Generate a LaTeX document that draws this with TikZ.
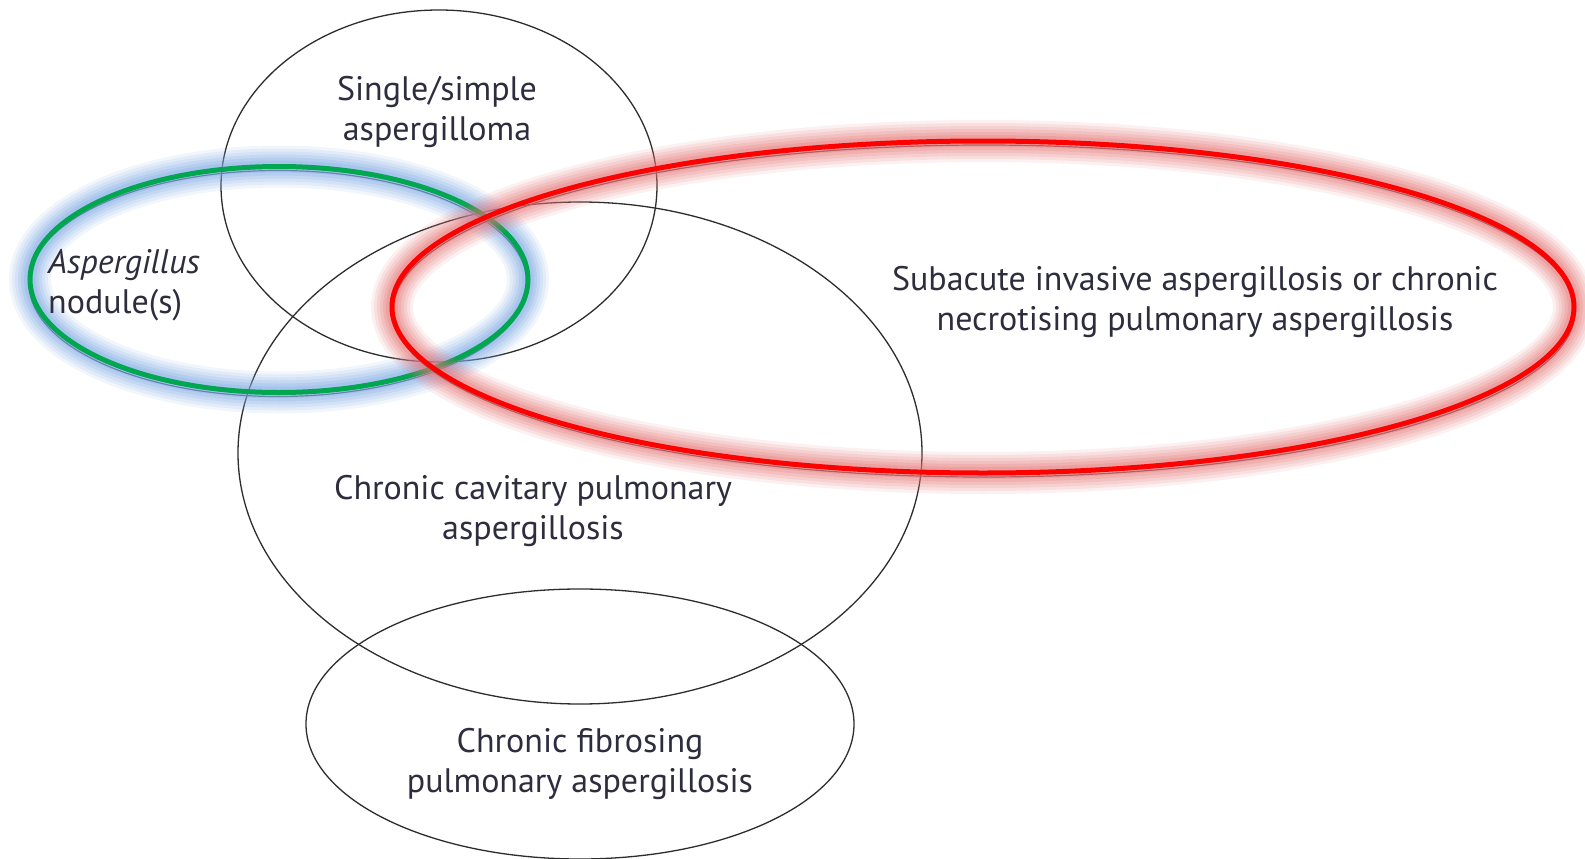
\documentclass[tikz,border=0pt]{standalone}
\usepackage{fontspec}
\setmainfont{PT Sans}
\definecolor{txt}{RGB}{45,45,62}
\definecolor{ringgray}{RGB}{45,45,45}
\definecolor{grn}{RGB}{0,166,80}
\definecolor{rd}{RGB}{255,0,0}
\definecolor{blueglow}{RGB}{125,170,228}
\definecolor{redglow}{RGB}{232,115,115}
\definecolor{shadowgray}{RGB}{60,60,75}
\begin{document}
\begin{tikzpicture}[x=1pt,y=-1pt,
  lbl/.style={font=\fontsize{34}{40.5}\selectfont, text=txt, align=center, inner sep=0pt},
  ring/.style={draw=ringgray, line width=1.3pt},
  shadowring/.style={draw=shadowgray, line width=1.2pt},
  greenring/.style={draw=grn, line width=5pt},
  redring/.style={draw=rd, line width=5pt}]
\useasboundingbox[fill=white] (0,0) rectangle (1585,859);

% black rings
\draw[ring] (439,186) ellipse [x radius=218, y radius=176];
\draw[ring] (580,453) ellipse [x radius=342, y radius=251];
\draw[ring] (580,724) ellipse [x radius=274, y radius=135];

% green ring with blue glow
\draw[shadowring] (278,283.5) ellipse [x radius=249, y radius=113];
\foreach \w/\o in {42/0.1, 36/0.12, 30/0.14, 24/0.17, 18/0.2, 12/0.25}
  \draw[blueglow, line width=\w pt, opacity=\o] (279,279.5) ellipse [x radius=249, y radius=113];
\draw[greenring] (279,279.5) ellipse [x radius=249, y radius=113];

% red ring with red glow
\draw[shadowring] (984,311) ellipse [x radius=591, y radius=166];
\foreach \w/\o in {42/0.1, 36/0.12, 30/0.14, 24/0.17, 18/0.2, 12/0.25}
  \draw[redglow, line width=\w pt, opacity=\o] (983,307) ellipse [x radius=591, y radius=166];
\draw[redring] (983,307) ellipse [x radius=591, y radius=166];

% labels
\node[lbl] (single) at (437,112) {Single/simple\\aspergilloma};
\node[lbl, align=left, anchor=west] (nodule) at (48,285) {\itshape Aspergillus\\nodule(s)};
\node[lbl] (subacute) at (1195,302) {Subacute invasive aspergillosis or chronic\\necrotising pulmonary aspergillosis};
\node[lbl] (cavitary) at (533,511) {Chronic cavitary pulmonary\\aspergillosis};
\node[lbl] (fibrosing) at (580,764) {Chronic fibrosing\\pulmonary aspergillosis};
\end{tikzpicture}
\end{document}
